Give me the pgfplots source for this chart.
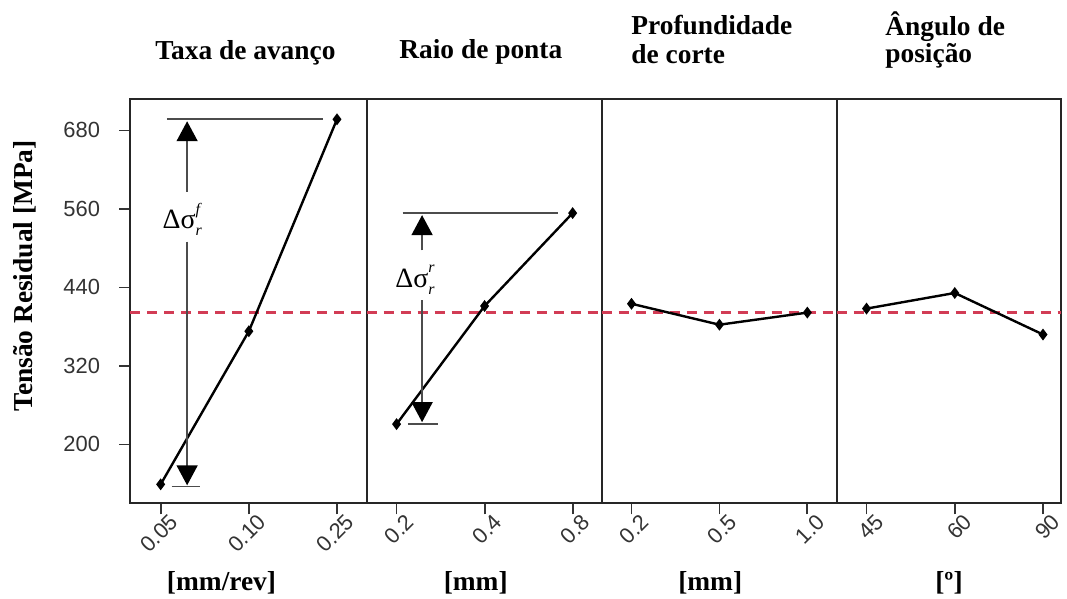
\documentclass[border=0pt]{standalone}
\usepackage{fontspec}
\setmainfont{Liberation Serif}
\newfontfamily\sansf{Liberation Sans}
\usepackage{pgfplots}
\pgfplotsset{compat=1.18}
\usetikzlibrary{arrows.meta}
\definecolor{refred}{RGB}{210,60,85}
\newcommand\tf{\fontsize{13.75}{16}\selectfont\bfseries}
\newcommand\dsig[2]{\fontsize{14}{16}\selectfont \char"0394\char"03C3\rlap{\raisebox{1.1ex}{\fontsize{8}{9}\selectfont\itshape #1}}\raisebox{-0.55ex}{\fontsize{8}{9}\selectfont\itshape #2}}
\pgfplotsset{
  panel/.style={
    scale only axis, height=202.15bp, ymin=110, ymax=728,
    xtick={0,1,2}, xtick pos=bottom, ytick pos=left, tick align=outside,
    major tick length=5.5bp,
    /pgf/number format/assume math mode=true,
    axis line style={line width=1bp, black!85},
    every tick/.style={line width=0.9bp, black!80},
    tick label style={font=\sansf\fontsize{11}{13}\selectfont, text=black!80},
    xticklabel style={rotate=45, anchor=north east, inner sep=1bp, xshift=4.5bp, yshift=-1bp},
    yticklabel style={xshift=-6bp},
    clip=false, anchor=south west,
  },
}
\tikzset{
  ser/.style={black, line width=1.2bp, mark=diamond*, mark size=2bp, mark options={solid}},
  refl/.style={refred, line width=1.5bp, dash pattern=on 5bp off 3.5bp},
  ann/.style={black!70, line width=0.8bp},
  arr/.style={ann, -{Triangle[width=10.5bp,length=10bp,black]}},
}
\begin{document}
\begin{tikzpicture}
\useasboundingbox (0,0) rectangle (533.5bp,299.5bp);

% Panel 1
\begin{axis}[panel, at={(65bp,47.85bp)}, width=118.35bp, xmin=-0.348, xmax=2.337,
  ytick={200,320,440,560,680}, xticklabels={0.05,0.10,0.25}]
\addplot[refl, forget plot] coordinates {(-0.348,401.5) (2.337,401.5)};
\addplot[ser] coordinates {(0,139) (1,373) (2,697)};
\draw[ann] (axis cs:0.07,697) -- (axis cs:1.84,697);
\draw[ann] (axis cs:0.125,135.5) -- (axis cs:0.45,135.5);
\draw[arr] (axis cs:0.3,586) -- (axis cs:0.3,694);
\draw[arr] (axis cs:0.3,510) -- (axis cs:0.3,137.5);
\node[anchor=base, inner sep=0] at (axis cs:0.245,529.5) {\dsig{f}{r}};
\end{axis}

% Panel 2
\begin{axis}[panel, at={(183.35bp,47.85bp)}, width=117.5bp, xmin=-0.339, xmax=2.33,
  ytick=\empty, xticklabels={0.2,0.4,0.8}]
\addplot[refl, forget plot] coordinates {(-0.339,401.5) (2.33,401.5)};
\addplot[ser] coordinates {(0,231) (1,411.6) (2,553.6)};
\draw[ann] (axis cs:0.07,553.6) -- (axis cs:1.835,553.6);
\draw[ann] (axis cs:0.13,231) -- (axis cs:0.47,231);
\draw[arr] (axis cs:0.29,496.6) -- (axis cs:0.29,550.5);
\draw[arr] (axis cs:0.29,420) -- (axis cs:0.29,234);
\node[anchor=base, inner sep=0] at (axis cs:0.21,440.6) {\dsig{r}{r}};
\end{axis}

% Panel 3
\begin{axis}[panel, at={(300.85bp,47.85bp)}, width=117.5bp, xmin=-0.339, xmax=2.334,
  ytick=\empty, xticklabels={0.2,0.5,1.0}]
\addplot[refl, forget plot] coordinates {(-0.339,401.5) (2.334,401.5)};
\addplot[ser] coordinates {(0,415) (1,383) (2,401.5)};
\end{axis}

% Panel 4
\begin{axis}[panel, at={(418.35bp,47.85bp)}, width=112.15bp, xmin=-0.338, xmax=2.204,
  ytick=\empty, xticklabels={45,60,90}]
\addplot[refl, forget plot] coordinates {(-0.338,401.5) (2.204,401.5)};
\addplot[ser] coordinates {(0,407.6) (1,431.5) (2,368)};
\end{axis}

% Titles
\node[anchor=base west, inner sep=0] at (77.5bp,269.5bp) {\tf Taxa de avanço};
\node[anchor=base west, inner sep=0] at (199.5bp,270bp) {\tf Raio de ponta};
\node[anchor=base west, inner sep=0] at (315.5bp,282bp) {\tf Profundidade};
\node[anchor=base west, inner sep=0] at (315.5bp,267.5bp) {\tf de corte};
\node[anchor=base west, inner sep=0] at (442.5bp,281.5bp) {\tf Ângulo de};
\node[anchor=base west, inner sep=0] at (442.5bp,268bp) {\tf posição};
% Units
\node[anchor=base, inner sep=0] at (110.75bp,4.5bp) {\tf [mm/rev]};
\node[anchor=base, inner sep=0] at (237.85bp,4.5bp) {\tf [mm]};
\node[anchor=base, inner sep=0] at (355.1bp,4.5bp) {\tf [mm]};
\node[anchor=base, inner sep=0] at (474.5bp,4.5bp) {\tf [º]};
% Y label
\node[anchor=base, rotate=90, inner sep=0] at (16bp,161.5bp) {\tf Tensão Residual [MPa]};
\end{tikzpicture}
\end{document}
